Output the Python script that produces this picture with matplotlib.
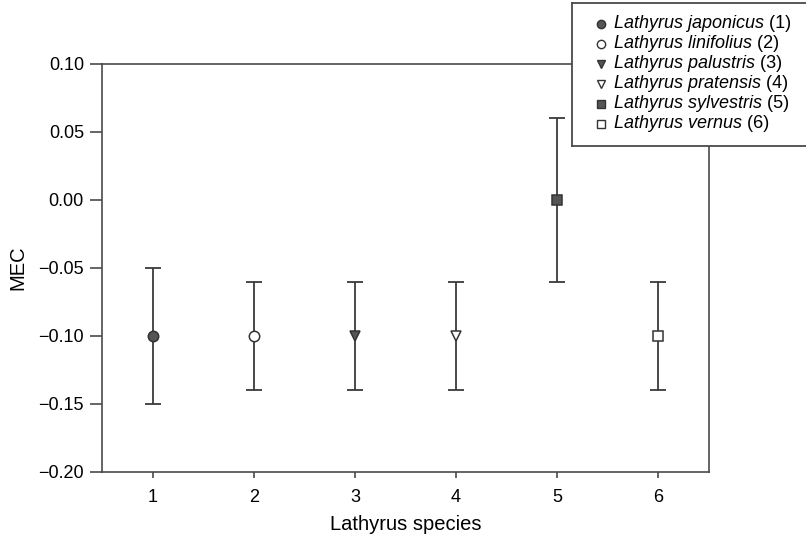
import matplotlib
matplotlib.use("Agg")
from matplotlib import pyplot as plt

plt.rcParams["font.family"] = ["Liberation Sans", "DejaVu Sans"]

# MEC per Lathyrus species, with lower/upper limits of the error bars
species = ["Lathyrus japonicus", "Lathyrus linifolius", "Lathyrus palustris",
           "Lathyrus pratensis", "Lathyrus sylvestris", "Lathyrus vernus"]
species_no = [1, 2, 3, 4, 5, 6]
mec = [-0.10, -0.10, -0.10, -0.10, 0.00, -0.10]
mec_low = [-0.15, -0.14, -0.14, -0.14, -0.06, -0.14]
mec_high = [-0.05, -0.06, -0.06, -0.06, 0.06, -0.06]

markers = ["o", "o", "v", "v", "s", "s"]
filled = [True, False, True, False, True, False]

line_col = "#3a3a3a"
fill_col = "#555555"

fig = plt.figure(figsize=(8.06, 5.36), dpi=100)
ax = fig.add_axes([102 / 806, 1 - 472 / 536, (709 - 102) / 806, (472 - 64) / 536])

for i in range(len(species_no)):
    err = [[mec[i] - mec_low[i]], [mec_high[i] - mec[i]]]
    ax.errorbar(species_no[i], mec[i], yerr=err, fmt="none", ecolor=line_col,
                elinewidth=1.3, capsize=6, capthick=1.3, zorder=2)
    ax.plot(species_no[i], mec[i], marker=markers[i], markersize=7.5,
            markerfacecolor=fill_col if filled[i] else "white",
            markeredgecolor="#333333", markeredgewidth=1.1, linestyle="none", zorder=3)

ax.set_xlim(0.5, 6.5)
ax.set_ylim(-0.20, 0.10)
ax.set_xticks(species_no)
ax.set_yticks([-0.20, -0.15, -0.10, -0.05, 0.00, 0.05, 0.10])
ax.set_yticklabels(["\u22120.20", "\u22120.15", "\u22120.10", "\u22120.05", "0.00", "0.05", "0.10"])
ax.tick_params(axis="y", direction="out", length=9, width=1.1, color=line_col,
               labelsize=13, pad=4)
ax.tick_params(axis="x", direction="out", length=4, width=1.1, color=line_col,
               labelsize=13, pad=8)
for sp in ax.spines.values():
    sp.set_color("#4a4a4a")
    sp.set_linewidth(1.2)

ax.set_xlabel("Lathyrus species", fontsize=14.5, labelpad=7)
ax.set_ylabel("MEC", fontsize=14.5, labelpad=8)

# legend box in the top right corner, pixel coordinates
lax = fig.add_axes([572 / 806, 1 - 146 / 536, (806 - 572) / 806, (146 - 3) / 536])
lax.set_xlim(572, 806)
lax.set_ylim(146, 3)
lax.set_xticks([])
lax.set_yticks([])
lax.set_facecolor("white")
for side, sp in lax.spines.items():
    sp.set_color("#4a4a4a")
    sp.set_linewidth(1.3)
lax.spines["right"].set_visible(False)

row_y = [24, 44, 64, 84, 104, 124]
for i in range(len(species)):
    lax.plot(601, row_y[i], marker=markers[i], markersize=6,
             markerfacecolor=fill_col if filled[i] else "white",
             markeredgecolor="#333333", markeredgewidth=1.0, linestyle="none")
    name = lax.text(614, row_y[i], species[i], fontsize=13, style="italic",
                    va="center", ha="left")
    lax.annotate(" (%d)" % species_no[i], xy=(1, 0.5), xycoords=name,
                 va="center", ha="left", fontsize=13)

fig.savefig("out.png", dpi=100)
